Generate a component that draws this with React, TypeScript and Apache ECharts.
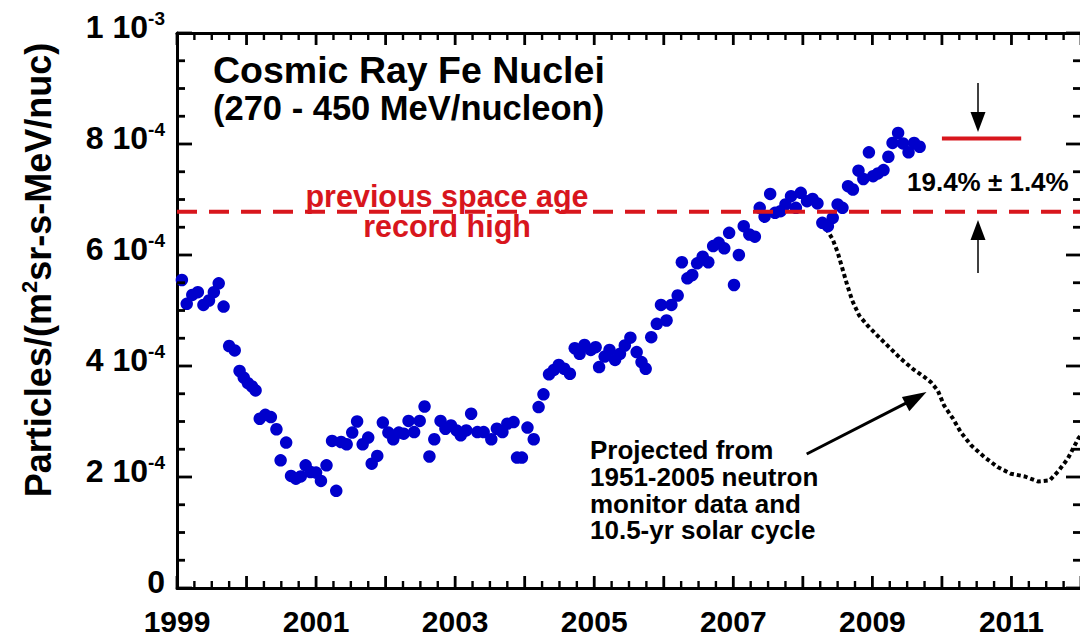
import React, { useEffect, useRef } from 'react';
import * as echarts from 'echarts';

const BASE_YEAR = 1999;
const X_MAX_YEAR = 2012;

// Cosmic-ray Fe flux, in units of 1e-4 particles/(m^2 sr s MeV/nuc)
const feYears = [
  1999.07, 1999.14, 1999.22, 1999.3, 1999.38, 1999.46, 1999.53, 1999.6, 1999.67, 1999.75, 1999.83, 1999.9, 1999.96,
  2000.02, 2000.08, 2000.13, 2000.19, 2000.27, 2000.35, 2000.43, 2000.49, 2000.57, 2000.64, 2000.71, 2000.78, 2000.85, 2000.92,
  2001.0, 2001.07, 2001.15, 2001.23, 2001.29, 2001.36, 2001.44, 2001.52, 2001.59, 2001.67, 2001.75, 2001.8, 2001.88, 2001.96,
  2002.04, 2002.11, 2002.19, 2002.26, 2002.33, 2002.41, 2002.49, 2002.56, 2002.63, 2002.7, 2002.79, 2002.86, 2002.94,
  2003.02, 2003.08, 2003.16, 2003.23, 2003.32, 2003.41, 2003.52, 2003.6, 2003.68, 2003.75, 2003.84, 2003.89, 2003.96,
  2004.04, 2004.13, 2004.2, 2004.27, 2004.35, 2004.42, 2004.49, 2004.57, 2004.65, 2004.72, 2004.79, 2004.86, 2004.95,
  2005.02, 2005.07, 2005.15, 2005.22, 2005.3, 2005.37, 2005.44, 2005.52, 2005.61, 2005.68, 2005.74, 2005.82, 2005.9, 2005.96,
  2006.04, 2006.11, 2006.2, 2006.26, 2006.34, 2006.41, 2006.48, 2006.56, 2006.64, 2006.71, 2006.79, 2006.87, 2006.94,
  2007.01, 2007.08, 2007.15, 2007.23, 2007.31, 2007.38, 2007.45, 2007.53, 2007.6, 2007.68, 2007.75, 2007.83, 2007.9, 2007.97,
  2008.06, 2008.14, 2008.21, 2008.28, 2008.36, 2008.43, 2008.5, 2008.57, 2008.65, 2008.72, 2008.8, 2008.87, 2008.95,
  2009.01, 2009.08, 2009.16, 2009.23, 2009.29, 2009.37, 2009.44, 2009.52, 2009.6, 2009.68,
];
const feFluxE4 = [
  5.55, 5.12, 5.28, 5.33, 5.1, 5.18, 5.33, 5.49, 5.07, 4.36, 4.28, 3.91, 3.79,
  3.69, 3.63, 3.56, 3.05, 3.12, 3.08, 2.86, 2.3, 2.62, 2.02, 1.97, 2.01, 2.21, 2.09,
  2.08, 1.93, 2.21, 2.65, 1.75, 2.63, 2.59, 2.8, 3.0, 2.59, 2.71, 2.24, 2.38, 2.98,
  2.8, 2.68, 2.8, 2.78, 3.01, 2.81, 3.01, 3.27, 2.37, 2.68, 3.01, 2.87, 2.93,
  2.84, 2.75, 2.84, 3.14, 2.81, 2.81, 2.68, 2.87, 2.81, 2.96, 2.99, 2.35, 2.35,
  2.89, 2.68, 3.26, 3.49, 3.85, 3.93, 4.02, 3.95, 3.86, 4.32, 4.22, 4.38, 4.29,
  4.34, 3.98, 4.17, 4.29, 4.11, 4.22, 4.37, 4.51, 4.25, 4.07, 3.95, 4.52, 4.76, 5.1,
  4.82, 5.1, 5.27, 5.87, 5.58, 5.64, 5.85, 5.97, 5.87, 6.16, 6.22, 6.12, 6.4,
  5.46, 6.0, 6.52, 6.37, 6.33, 6.85, 6.69, 7.1, 6.76, 6.79, 6.91, 7.06, 6.85, 7.12,
  6.97, 7.01, 6.93, 6.58, 6.52, 6.67, 6.91, 6.85, 7.24, 7.18, 7.52, 7.37, 7.85,
  7.42, 7.47, 7.53, 7.77, 8.02, 8.2, 8.01, 7.85, 8.02, 7.95,
];

// Projection from 1951-2005 neutron monitor data
const projYears = [
  2008.28, 2008.33, 2008.43, 2008.5, 2008.57, 2008.64, 2008.71, 2008.81, 2008.93, 2009.07,
  2009.24, 2009.41, 2009.58, 2009.75, 2009.84, 2009.94, 2010.03, 2010.16, 2010.27, 2010.42,
  2010.61, 2010.8, 2010.99, 2011.19, 2011.38, 2011.55, 2011.67, 2011.81, 2011.96, 2012.05,
];
const projFluxE4 = [
  6.58, 6.49, 6.28, 6.05, 5.75, 5.45, 5.18, 4.91, 4.73, 4.55,
  4.34, 4.13, 3.95, 3.8, 3.71, 3.56, 3.29, 3.05, 2.81, 2.57,
  2.36, 2.18, 2.06, 2.01, 1.92, 1.94, 2.1, 2.33, 2.69, 2.85,
];

const recordHighE4 = 6.78;
const newLevelE4 = 8.1;
const newLevelYears = [2010.0, 2011.14];

// axis ticks: x every quarter year, y every 0.5e-4
const X_TICK_STEP = 0.25;
const Y_TICK_STEP = 0.5;
const Y_MAX = 10;
const yTickExponents = { 10: -3 } as Record<number, number>;

const FONT = '"Liberation Sans", Arial, Helvetica, sans-serif';
const RED = '#d8161d';
const BLUE = '#0000cc';

const off = (y: number) => y - BASE_YEAR;

export default function App() {
  const ref = useRef<HTMLDivElement>(null);

  useEffect(() => {
    if (!ref.current) return;
    const chart = echarts.init(ref.current, undefined, { renderer: 'svg' });

    const scatterData = feYears.map((y, i) => [off(y), feFluxE4[i]]);
    const projData = projYears.map((y, i) => [off(y), projFluxE4[i]]);
    const xMax = off(X_MAX_YEAR);

    const axisLine = { show: true, onZero: false, lineStyle: { color: '#000', width: 3 } };

    const xAx = (pos: 'bottom' | 'top', labels: boolean) => ({
      type: 'value', min: 0, max: xMax, interval: 2, position: pos,
      axisLine, splitLine: { show: false }, axisTick: { show: false }, minorTick: { show: false },
      axisLabel: labels
        ? {
            show: true, margin: 18, color: '#000', fontFamily: FONT, fontWeight: 'bold', fontSize: 30,
            formatter: (v: number) => (Math.round(v) % 2 === 0 ? String(BASE_YEAR + Math.round(v)) : ''),
          }
        : { show: false },
    });
    const yAx = (pos: 'left' | 'right', labels: boolean) => ({
      type: 'value', min: 0, max: Y_MAX, interval: 2, position: pos,
      axisLine, splitLine: { show: false }, axisTick: { show: false }, minorTick: { show: false },
      axisLabel: labels
        ? {
            show: true, margin: 12, padding: [0, 0, 12, 0],
            formatter: (v: number) => {
              const r = Math.round(v);
              if (r === 0) return '{n|0}';
              if (yTickExponents[r] !== undefined) return `{n|${r / 10} 10}{e|${yTickExponents[r]}}`;
              return `{n|${r} 10}{e|-4}`;
            },
            rich: {
              n: { fontFamily: FONT, fontWeight: 'bold', fontSize: 32, color: '#000', lineHeight: 36 },
              e: { fontFamily: FONT, fontWeight: 'bold', fontSize: 19, color: '#000', lineHeight: 18, verticalAlign: 'top' },
            },
          }
        : { show: false },
    });

    const bold = (size: number) => `bold ${size}px ${FONT}`;

    chart.setOption({
      animation: false,
      backgroundColor: '#fff',
      grid: { left: 177, right: 2, top: 33, bottom: 45, containLabel: false },
      xAxis: [xAx('bottom', true), xAx('top', false)],
      yAxis: [yAx('left', true), yAx('right', false)],
      series: [
        {
          type: 'line', name: 'Projected', data: projData, xAxisIndex: 0, yAxisIndex: 0,
          symbol: 'none', showSymbol: false, clip: true, z: 2,
          lineStyle: { color: '#000', width: 4, type: [4, 3], cap: 'butt' },
        },
        {
          type: 'scatter', name: 'Fe', data: scatterData, xAxisIndex: 0, yAxisIndex: 0,
          symbol: 'circle', symbolSize: 12.5, itemStyle: { color: BLUE, opacity: 1 }, z: 3,
        },
        {
          type: 'line', name: 'Record high', data: [[0, recordHighE4], [xMax, recordHighE4]],
          xAxisIndex: 0, yAxisIndex: 0, symbol: 'none', z: 4,
          lineStyle: { color: RED, width: 4, type: [20, 12] },
        },
        {
          type: 'line', name: 'New level', data: newLevelYears.map((y) => [off(y), newLevelE4]),
          xAxisIndex: 0, yAxisIndex: 0, symbol: 'none', z: 4,
          lineStyle: { color: RED, width: 4 },
        },
      ],
    });

    // Axis ticks on all four sides, placed through the chart's own scales
    const toPx = (v: number[]) => chart.convertToPixel({ gridIndex: 0 }, v) as number[];
    const ticks: any[] = [];
    const tickStyle = (w: number) => ({ stroke: '#000', lineWidth: w });
    for (let i = 0; i * X_TICK_STEP <= xMax + 1e-9; i++) {
      const v = i * X_TICK_STEP;
      const [x, yb] = toPx([v, 0]);
      const yt = toPx([v, Y_MAX])[1];
      const isYear = Math.abs(v - Math.round(v)) < 1e-6;
      const len = isYear ? 12 : 7;
      const w = isYear ? 2.8 : 2.4;
      ticks.push({ type: 'line', z: 50, shape: { x1: x, y1: yb, x2: x, y2: yb - len }, style: tickStyle(w) });
      ticks.push({ type: 'line', z: 50, shape: { x1: x, y1: yt, x2: x, y2: yt + len }, style: tickStyle(w) });
    }
    for (let i = 0; i * Y_TICK_STEP <= Y_MAX + 1e-9; i++) {
      const v = i * Y_TICK_STEP;
      const [xl, y] = toPx([0, v]);
      const xr = toPx([xMax, v])[0];
      const major = Math.abs(v / 2 - Math.round(v / 2)) < 1e-6;
      const len = major ? 15 : 8;
      ticks.push({ type: 'line', z: 50, shape: { x1: xl, y1: y, x2: xl + len, y2: y }, style: tickStyle(2.8) });
      ticks.push({ type: 'line', z: 50, shape: { x1: xr, y1: y, x2: xr - len, y2: y }, style: tickStyle(2.8) });
    }

    chart.setOption({
      graphic: [
        ...ticks,
        { type: 'text', x: 213, y: 70, z: 100, style: { text: 'Cosmic Ray Fe Nuclei', font: bold(37.5), fill: '#000', align: 'left', verticalAlign: 'middle' } },
        { type: 'text', x: 213, y: 108, z: 100, style: { text: '(270 - 450 MeV/nucleon)', font: bold(34.5), fill: '#000', align: 'left', verticalAlign: 'middle' } },
        { type: 'text', x: 447, y: 196, z: 100, style: { text: 'previous space age', font: bold(30.5), fill: RED, align: 'center', verticalAlign: 'middle' } },
        { type: 'text', x: 447, y: 226, z: 100, style: { text: 'record high', font: bold(30.5), fill: RED, align: 'center', verticalAlign: 'middle' } },
        { type: 'text', x: 907, y: 182, z: 100, style: { text: '19.4% ± 1.4%', font: bold(26), fill: '#000', align: 'left', verticalAlign: 'middle' } },
        {
          type: 'text', x: 590, y: 437, z: 100,
          style: {
            text: 'Projected from\n1951-2005 neutron\nmonitor data and\n10.5-yr solar cycle',
            font: bold(26), lineHeight: 26.7, fill: '#000', align: 'left', verticalAlign: 'top',
          },
        },
        {
          type: 'text', x: 38, y: 270, rotation: Math.PI / 2, z: 100,
          style: {
            text: '{a|Particles/(m}{s|2}{a|sr-s-MeV/nuc)}',
            align: 'center', verticalAlign: 'middle',
            rich: {
              a: { fontFamily: FONT, fontWeight: 'bold', fontSize: 36, fill: '#000', lineHeight: 40 },
              s: { fontFamily: FONT, fontWeight: 'bold', fontSize: 22, fill: '#000', lineHeight: 22, verticalAlign: 'top' },
            },
          },
        },
        // 19.4% arrows
        { type: 'line', z: 100, shape: { x1: 978, y1: 83, x2: 978, y2: 113 }, style: { stroke: '#000', lineWidth: 1.5 } },
        { type: 'polygon', z: 100, shape: { points: [[970.5, 112], [985.5, 112], [978, 132]] }, style: { fill: '#000' } },
        { type: 'line', z: 100, shape: { x1: 978, y1: 239, x2: 978, y2: 273 }, style: { stroke: '#000', lineWidth: 1.5 } },
        { type: 'polygon', z: 100, shape: { points: [[970.5, 240], [985.5, 240], [978, 220]] }, style: { fill: '#000' } },
        // projection arrow
        { type: 'line', z: 100, shape: { x1: 806.7, y1: 454, x2: 906, y2: 403.2 }, style: { stroke: '#000', lineWidth: 3 } },
        { type: 'polygon', z: 100, shape: { points: [[926.5, 392], [909.3, 411.3], [901.9, 396.9]] }, style: { fill: '#000' } },
      ],
    });

    return () => chart.dispose();
  }, []);

  return (
    <div style={{ position: 'absolute', left: 0, top: 0, width: 1080, height: 636, overflow: 'hidden', background: '#fff' }}>
      <div ref={ref} style={{ width: 1084, height: 636 }} />
    </div>
  );
}
